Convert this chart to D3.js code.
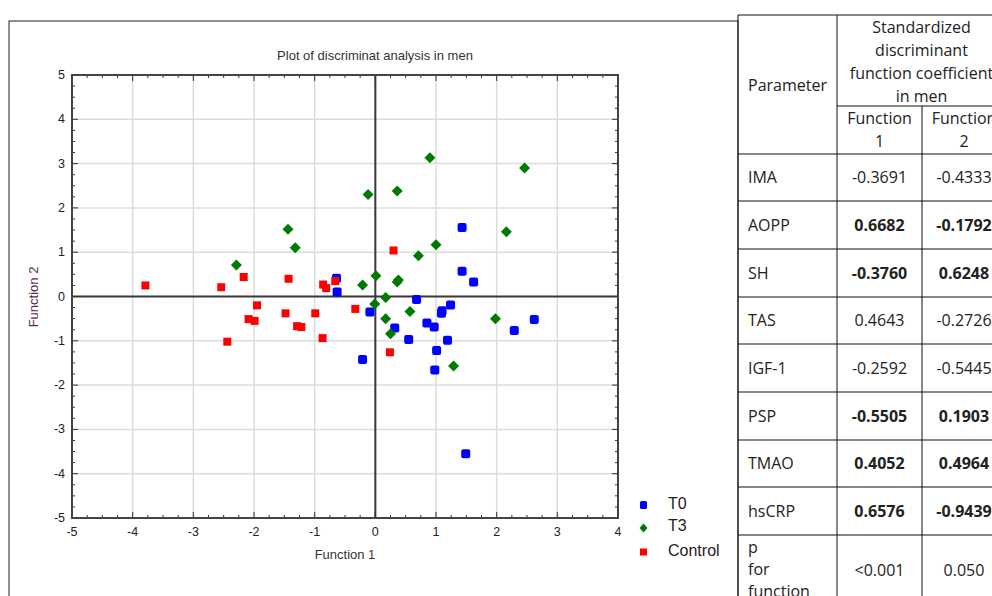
<!DOCTYPE html>
<html>
<head>
<meta charset="utf-8">
<script src="https://cdn.jsdelivr.net/npm/d3@7"></script>
<style>
  html, body { margin: 0; padding: 0; background: #fff; overflow: hidden; }
  svg { display: block; }
</style>
</head>
<body>
<svg id="chart" width="992" height="596"></svg>
<script>
// scatter points [function 1, function 2]
const t0 = [
  [-0.64, 0.41], [-0.63, 0.10], [1.43, 1.56], [1.43, 0.57], [1.62, 0.33],
  [0.68, -0.07], [-0.09, -0.35], [-0.21, -1.42], [0.32, -0.71], [0.55, -0.97],
  [0.85, -0.60], [0.97, -0.69], [1.09, -0.38], [1.10, -0.32], [1.24, -0.19],
  [1.19, -0.99], [1.01, -1.22], [0.98, -1.66], [2.29, -0.77], [2.62, -0.52],
  [1.49, -3.55]
];
const t3 = [
  [-2.29, 0.71], [-1.44, 1.52], [-1.32, 1.10], [-0.21, 0.26], [-0.12, 2.30],
  [0.01, 0.47], [0.90, 3.13], [2.46, 2.90], [0.36, 2.38], [2.16, 1.46],
  [1.00, 1.17], [0.71, 0.92], [0.36, 0.33], [0.38, 0.37], [0.17, -0.02],
  [-0.01, -0.17], [0.17, -0.50], [0.57, -0.34], [0.25, -0.84], [1.29, -1.57],
  [1.98, -0.50]
];
const control = [
  [-3.79, 0.25], [-2.54, 0.21], [-2.17, 0.44], [-1.43, 0.40], [-0.86, 0.27],
  [-0.81, 0.19], [-0.66, 0.35], [0.30, 1.04], [-1.95, -0.20], [-2.09, -0.51],
  [-1.99, -0.55], [-2.44, -1.02], [-1.48, -0.38], [-1.29, -0.67], [-1.22, -0.69],
  [-0.99, -0.38], [-0.87, -0.94], [-0.33, -0.28], [0.24, -1.26]
];

const groups = ["T0", "T3", "Control"];
const xTicks = [-5, -4, -3, -2, -1, 0, 1, 2, 3, 4];
const yTicks = [-5, -4, -3, -2, -1, 0, 1, 2, 3, 4, 5];

// table data
const params = ["IMA", "AOPP", "SH", "TAS", "IGF-1", "PSP", "TMAO", "hsCRP"];
const func1 = ["-0.3691", "0.6682", "-0.3760", "0.4643", "-0.2592", "-0.5505", "0.4052", "0.6576"];
const func2 = ["-0.4333", "-0.1792", "0.6248", "-0.2726", "-0.5445", "0.1903", "0.4964", "-0.9439"];
const bold = [false, true, true, false, false, true, true, true];
const pValues = ["<0.001", "0.050"];

const svg = d3.select("#chart");

// outer frame of the chart picture
svg.append("rect").attr("x", 9).attr("y", 21).attr("width", 729).attr("height", 600)
  .attr("fill", "none").attr("stroke", "#222").attr("stroke-width", 1);

const x = d3.scaleLinear().domain([-5, 4]).range([72, 618]);
const y = d3.scaleLinear().domain([-5, 5]).range([518, 75]);

const plot = svg.append("g");

// grid
plot.append("g").selectAll("line").data(xTicks.slice(1)).join("line")
  .attr("x1", d => x(d)).attr("x2", d => x(d)).attr("y1", y(5)).attr("y2", y(-5))
  .attr("stroke", "#dcdcdc").attr("stroke-width", 1.5);
plot.append("g").selectAll("line").data(yTicks.slice(1, -1)).join("line")
  .attr("x1", x(-5)).attr("x2", x(4)).attr("y1", d => y(d)).attr("y2", d => y(d))
  .attr("stroke", "#dcdcdc").attr("stroke-width", 1.5);

// zero lines
plot.append("line").attr("x1", x(0)).attr("x2", x(0)).attr("y1", y(5)).attr("y2", y(-5))
  .attr("stroke", "#3a3a3a").attr("stroke-width", 2);
plot.append("line").attr("x1", x(-5)).attr("x2", x(4)).attr("y1", y(0)).attr("y2", y(0))
  .attr("stroke", "#3a3a3a").attr("stroke-width", 2);

// inward ticks on all four sides
const xMinor = d3.range(-5, 4.001, 0.25);
const yMinor = d3.range(-5, 5.001, 0.25);
const isMajor = v => Math.abs(v - Math.round(v)) < 1e-6;
const tickG = plot.append("g").attr("stroke", "#333").attr("stroke-width", 1);
tickG.selectAll(".tb").data(xMinor).join("line")
  .attr("x1", d => x(d)).attr("x2", d => x(d))
  .attr("y1", y(-5)).attr("y2", d => y(-5) - (isMajor(d) ? 6 : 3));
tickG.selectAll(".tt").data(xMinor).join("line")
  .attr("x1", d => x(d)).attr("x2", d => x(d))
  .attr("y1", y(5)).attr("y2", d => y(5) + (isMajor(d) ? 6 : 3));
tickG.selectAll(".tl").data(yMinor).join("line")
  .attr("y1", d => y(d)).attr("y2", d => y(d))
  .attr("x1", x(-5)).attr("x2", d => x(-5) + (isMajor(d) ? 6 : 3));
tickG.selectAll(".tr").data(yMinor).join("line")
  .attr("y1", d => y(d)).attr("y2", d => y(d))
  .attr("x1", x(4)).attr("x2", d => x(4) - (isMajor(d) ? 6 : 3));

// frame
plot.append("rect").attr("x", x(-5)).attr("y", y(5))
  .attr("width", x(4) - x(-5)).attr("height", y(-5) - y(5))
  .attr("fill", "none").attr("stroke", "#444").attr("stroke-width", 2);

// tick labels
const font = "'Liberation Sans', Arial, sans-serif";
plot.append("g").selectAll("text").data(xTicks).join("text")
  .attr("x", d => x(d)).attr("y", y(-5) + 18)
  .attr("text-anchor", "middle").attr("font-family", font).attr("font-size", 12.5)
  .attr("fill", "#222").text(d => d);
plot.append("g").selectAll("text").data(yTicks).join("text")
  .attr("x", x(-5) - 7).attr("y", d => y(d) + 4)
  .attr("text-anchor", "end").attr("font-family", font).attr("font-size", 12.5)
  .attr("fill", "#222").text(d => d);

// titles
svg.append("text").attr("x", 375).attr("y", 60).attr("text-anchor", "middle")
  .attr("font-family", font).attr("font-size", 13).attr("fill", "#333")
  .text("Plot of discriminat analysis in men");
svg.append("text").attr("x", 345).attr("y", 559).attr("text-anchor", "middle")
  .attr("font-family", font).attr("font-size", 13).attr("fill", "#333")
  .text("Function 1");
svg.append("text").attr("transform", "translate(38,297) rotate(-90)")
  .attr("text-anchor", "middle").attr("font-family", font).attr("font-size", 13)
  .attr("fill", "#5a2a48").text("Function 2");

// markers
const pts = plot.append("g");
pts.selectAll(".t0").data(t0).join("rect")
  .attr("x", d => x(d[0]) - 4.5).attr("y", d => y(d[1]) - 4.5)
  .attr("width", 9).attr("height", 9).attr("rx", 2)
  .attr("fill", "#0000ff");
pts.selectAll(".t3").data(t3).join("path")
  .attr("transform", d => `translate(${x(d[0])},${y(d[1])})`)
  .attr("d", "M0,-5.5L5.5,0L0,5.5L-5.5,0Z")
  .attr("fill", "#007a00");
pts.selectAll(".ctl").data(control).join("rect")
  .attr("x", d => x(d[0]) - 4).attr("y", d => y(d[1]) - 4)
  .attr("width", 8).attr("height", 8)
  .attr("fill", "#ff0000");

// legend
const legend = svg.append("g");
const ly = [505, 528, 552];
legend.append("rect").attr("x", 640).attr("y", ly[0] - 4).attr("width", 7).attr("height", 8).attr("rx", 1.5).attr("fill", "#0000ff");
legend.append("path").attr("transform", `translate(643.5,${ly[1]})`).attr("d", "M0,-4.5L4,0L0,4.5L-4,0Z").attr("fill", "#007a00");
legend.append("rect").attr("x", 640).attr("y", ly[2] - 3.5).attr("width", 7).attr("height", 7).attr("fill", "#ff0000");
const lyText = [509, 531, 556];
legend.selectAll("text").data(groups).join("text")
  .attr("x", 668).attr("y", (d, i) => lyText[i])
  .attr("font-family", font).attr("font-size", 16).attr("fill", "#222")
  .text(d => d);

// table
const tf = "'Open Sans', 'Noto Sans', sans-serif";
const tbl = svg.append("g").attr("font-family", tf).attr("font-size", 16).attr("fill", "#222");
const cx0 = 738, cx1 = 837, cx2 = 922, cx3 = 1006;
const rowLines = [154, 201, 249, 297, 344, 392, 440, 487, 535];
const line = (x1, y1, x2, y2) => tbl.append("line")
  .attr("x1", x1).attr("y1", y1).attr("x2", x2).attr("y2", y2)
  .attr("stroke", "#111").attr("stroke-width", 1);

line(cx0, 15, cx3, 15);
line(cx1, 106, cx3, 106);
rowLines.forEach(v => line(cx0, v, cx3, v));
line(cx0, 15, cx0, 600);
line(cx1, 15, cx1, 600);
line(cx2, 106, cx2, 600);

const headLines = ["Standardized", "discriminant", "function coefficient", "in men"];
tbl.selectAll(".h").data(headLines).join("text")
  .attr("x", (cx1 + cx3) / 2).attr("y", (d, i) => 33 + i * 23)
  .attr("text-anchor", "middle").text(d => d);
tbl.append("text").attr("x", 748).attr("y", 91).text("Parameter");
[["Function", "1"], ["Function", "2"]].forEach((lines, j) => {
  const cx = j === 0 ? (cx1 + cx2) / 2 : (cx2 + cx3) / 2;
  lines.forEach((t, i) => tbl.append("text").attr("x", cx).attr("y", 124 + i * 23)
    .attr("text-anchor", "middle").text(t));
});

params.forEach((p, i) => {
  const cy = (rowLines[i] + rowLines[i + 1]) / 2 + 5.5;
  tbl.append("text").attr("x", 748).attr("y", cy).text(p);
  tbl.append("text").attr("x", (cx1 + cx2) / 2).attr("y", cy).attr("text-anchor", "middle")
    .attr("font-weight", bold[i] ? "bold" : "normal").text(func1[i]);
  tbl.append("text").attr("x", (cx2 + cx3) / 2).attr("y", cy).attr("text-anchor", "middle")
    .attr("font-weight", bold[i] ? "bold" : "normal").text(func2[i]);
});

["p", "for", "function"].forEach((t, i) => tbl.append("text")
  .attr("x", 748).attr("y", 553 + i * 22).text(t));
tbl.append("text").attr("x", (cx1 + cx2) / 2).attr("y", 576).attr("text-anchor", "middle").text(pValues[0]);
tbl.append("text").attr("x", (cx2 + cx3) / 2).attr("y", 576).attr("text-anchor", "middle").text(pValues[1]);
</script>
</body>
</html>
